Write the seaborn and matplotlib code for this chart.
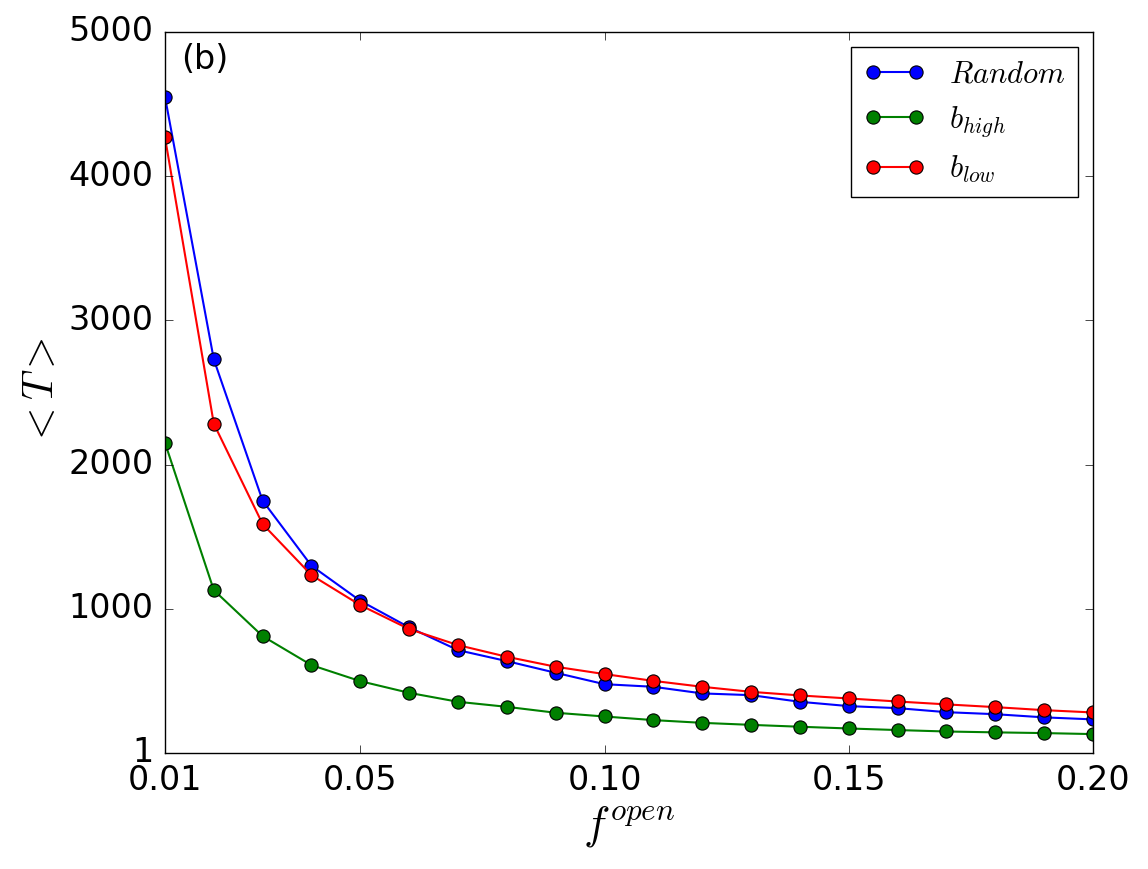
import numpy as np
import pandas as pd
import seaborn as sns
import matplotlib
matplotlib.use("Agg")
import matplotlib.pyplot as plt

# values
f_open = [0.01, 0.02, 0.03, 0.04, 0.05, 0.06, 0.07, 0.08, 0.09, 0.10,
          0.11, 0.12, 0.13, 0.14, 0.15, 0.16, 0.17, 0.18, 0.19, 0.20]
t_random = [4551, 2730, 1750, 1299, 1056, 872, 714, 638, 557, 478,
            460, 414, 402, 356, 326, 312, 284, 270, 248, 234]
t_high = [2152, 1130, 811, 610, 499, 418, 356, 321, 280, 254,
          229, 210, 196, 183, 171, 160, 150, 144, 139, 132]
t_low = [4270, 2284, 1588, 1234, 1026, 860, 749, 668, 599, 548,
         501, 460, 425, 400, 379, 358, 338, 319, 298, 282]

labels = ["$Random$", "$b_{high}$", "$b_{low}$"]
xticks = [0.01, 0.05, 0.10, 0.15, 0.20]
xticklabels = ["0.01", "0.05", "0.10", "0.15", "0.20"]
yticks = [1, 1000, 2000, 3000, 4000, 5000]

df = pd.DataFrame({
    "f": f_open * 3,
    "T": t_random + t_high + t_low,
    "series": [labels[0]] * 20 + [labels[1]] * 20 + [labels[2]] * 20,
})

plt.style.use("classic")
plt.rcParams["mathtext.fontset"] = "cm"
plt.rcParams["font.family"] = ["DejaVu Sans"]

fig = plt.figure(figsize=(11.48, 8.69), dpi=100, facecolor="white")
ax = fig.add_axes([0.1437, 0.1335, 0.8083, 0.8297])
ax.set_facecolor("white")

pal = {labels[0]: "blue", labels[1]: "green", labels[2]: "red"}
sns.lineplot(data=df, x="f", y="T", hue="series", hue_order=labels,
             palette=pal, marker="o", markersize=9.5, markeredgecolor="black",
             markeredgewidth=0.8, linewidth=1.5, estimator=None, sort=False, ax=ax)

ax.set_xlim(0.01, 0.20)
ax.set_ylim(1, 5000)
ax.set_xticks(xticks)
ax.set_xticklabels(xticklabels)
ax.set_yticks(yticks)
ax.tick_params(labelsize=24, direction="in", top=True, right=True, length=6, pad=8)

ax.set_xlabel("$f^{open}$", fontsize=32)
ax.set_ylabel("$<T>$", fontsize=30)
ax.text(0.017, 0.985, "(b)", transform=ax.transAxes, fontsize=24, va="top", ha="left")

leg = ax.legend(loc="upper right", fontsize=22, numpoints=2, fancybox=False)
leg.get_frame().set_edgecolor("black")

fig.savefig("out.png", dpi=100, facecolor="white")
